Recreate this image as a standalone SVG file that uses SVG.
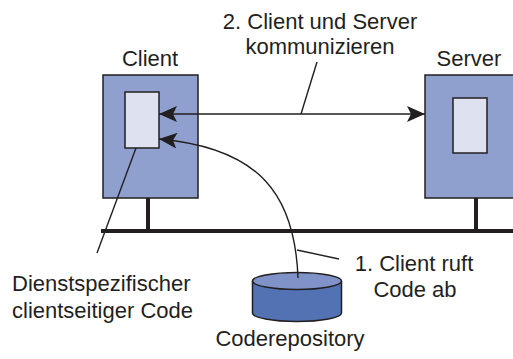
<svg xmlns="http://www.w3.org/2000/svg" width="513" height="359" viewBox="0 0 513 359">
<style>
text{font-family:"Liberation Sans",Arial,sans-serif;font-size:22px;fill:#231f20}
.box{fill:#8fa0cf;stroke:#231f20;stroke-width:1.5}
.inner{fill:#dde1f0;stroke:#231f20;stroke-width:1.5}
.bar{stroke:#231f20;stroke-width:4;fill:none}
.conn{stroke:#231f20;stroke-width:1.4;fill:none}
</style>
<defs>
<marker id="ah" viewBox="0 0 18 16" refX="18" refY="8" markerWidth="18" markerHeight="16" markerUnits="userSpaceOnUse" orient="auto-start-reverse">
<path d="M0,0 L18,8 L0,16 L4,8 Z" fill="#231f20"/>
</marker>
</defs>
<rect width="513" height="359" fill="#fff"/>
<g id="network">
<line class="bar" x1="101" y1="231" x2="513" y2="231"/>
<line class="bar" x1="148" y1="198" x2="148" y2="231"/>
<line class="bar" x1="476" y1="198" x2="476" y2="231"/>
</g>
<g id="client">
<rect class="box" x="103" y="75" width="95" height="123"/>
<rect class="inner" x="125" y="92" width="34" height="56"/>
<text x="150" y="66" text-anchor="middle">Client</text>
</g>
<g id="server">
<rect class="box" x="425" y="75" width="100" height="123"/>
<rect class="inner" x="453" y="98" width="34" height="55"/>
<text x="469" y="66" text-anchor="middle">Server</text>
</g>
<g id="repository">
<path d="M252.5,281 V313 A44.5,8.5 0 0 0 341.5,313 V281" fill="#5372b4" stroke="#231f20" stroke-width="1.5"/>
<ellipse cx="297" cy="281" rx="44.5" ry="8.5" fill="#7f93c8" stroke="#231f20" stroke-width="1.5"/>
<text x="290" y="346" text-anchor="middle">Coderepository</text>
</g>
<g id="connectors">
<line class="conn" x1="159" y1="114" x2="425" y2="114" marker-start="url(#ah)" marker-end="url(#ah)"/>
<path class="conn" d="M298,278 C295,195 260,148 159,139" marker-end="url(#ah)"/>
<line class="conn" x1="317" y1="62" x2="301" y2="114"/>
<line class="conn" x1="297" y1="250" x2="339" y2="259"/>
<line class="conn" x1="136" y1="148" x2="97" y2="253"/>
</g>
<g id="labels">
<text x="320" y="29" text-anchor="middle">2. Client und Server</text>
<text x="320" y="54" text-anchor="middle">kommunizieren</text>
<text x="414" y="271" text-anchor="middle">1. Client ruft</text>
<text x="415" y="297" text-anchor="middle">Code ab</text>
<text x="12" y="291">Dienstspezifischer</text>
<text x="12" y="318">clientseitiger Code</text>
</g>
</svg>
